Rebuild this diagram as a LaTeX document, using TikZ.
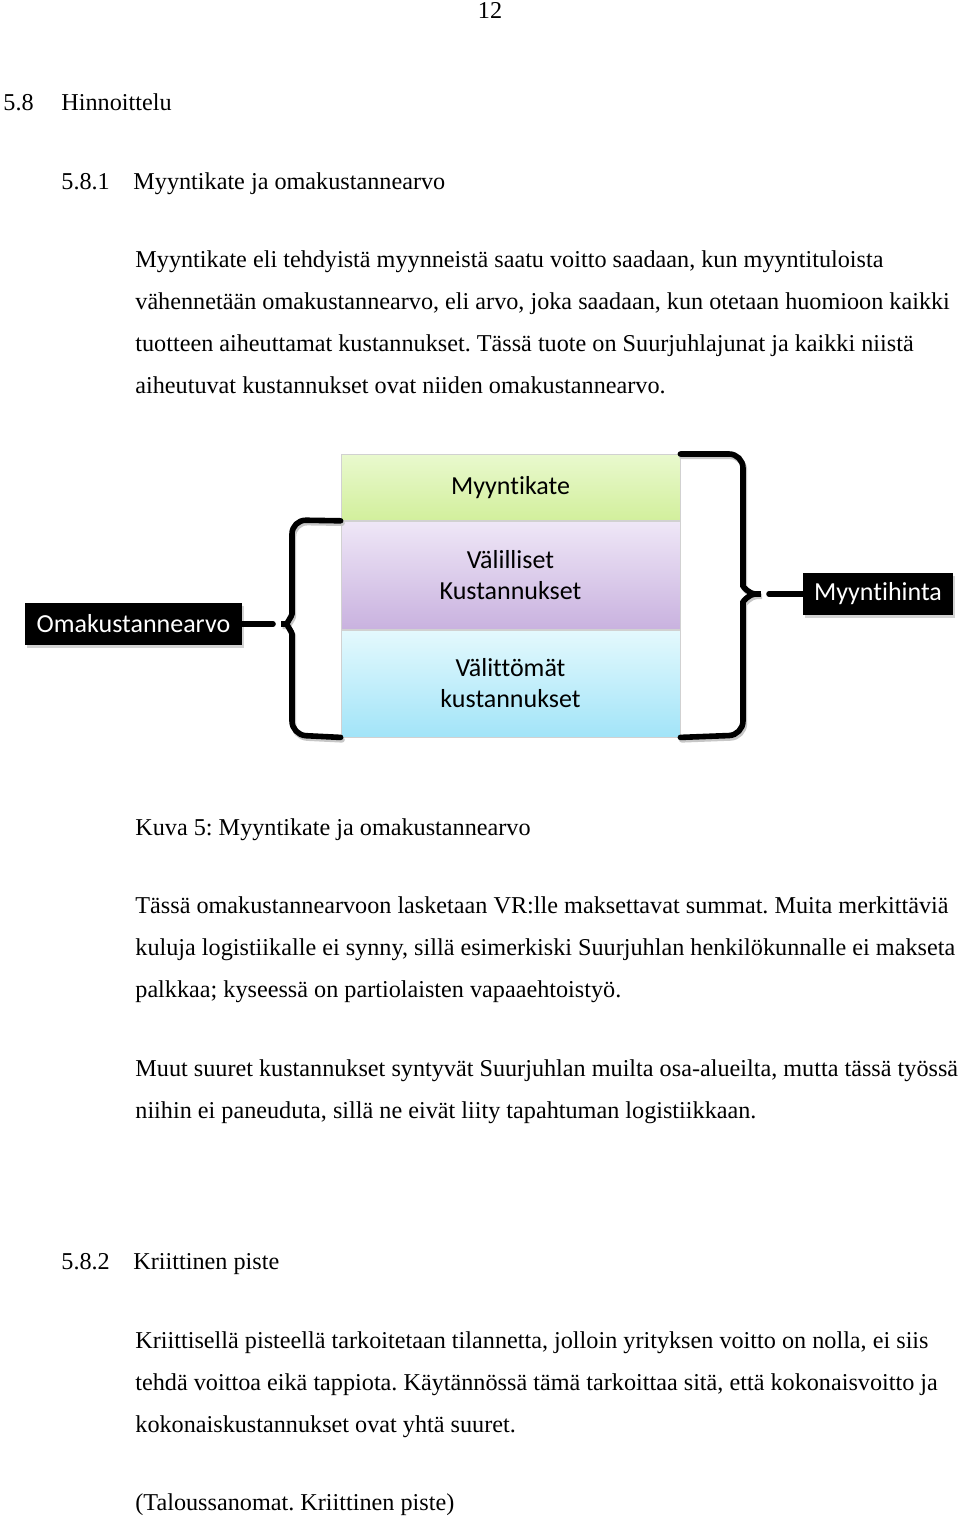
\documentclass[tikz,border=0pt]{standalone}
\usepackage{fontspec}
\setmainfont{Liberation Serif}
\newfontfamily\boxfont[Ligatures=NoCommon]{Carlito}
\usepackage{tikz}
\usetikzlibrary{positioning}
\usetikzlibrary{shadows}

\definecolor{kategreen}{HTML}{D2EF9C}
\definecolor{katelight}{HTML}{E9F9CE}
\definecolor{vallpurple}{HTML}{C9B2DF}
\definecolor{valllight}{HTML}{EFE7F7}
\definecolor{valtblue}{HTML}{A2E4F8}
\definecolor{valtlight}{HTML}{E4F9FD}

\tikzset{
  line/.style={anchor=base west, inner sep=0pt, font=\fontsize{12.1}{14}\selectfont},
  stackbox/.style={draw=black!18, line width=0.4pt, minimum width=169.5pt, inner sep=0pt,
    align=center, font=\boxfont\fontsize{13}{15.5}\selectfont},
  tag/.style={fill=black, text=white, inner sep=0pt, minimum height=21pt,
    font=\boxfont\fontsize{13}{15.5}\selectfont, drop shadow={shadow xshift=1pt, shadow yshift=-1.5pt, opacity=0.35}},
  bracket/.style={line width=2.8pt, rounded corners=7pt, line cap=round},
  bracketshadow/.style={bracket, black!22, transform canvas={xshift=0.7pt, yshift=-1.2pt}}
}

\begin{document}
\frenchspacing
\begin{tikzpicture}[x=0.5pt, y=-0.5pt]
    \useasboundingbox (0,0) rectangle (960,1516);

    % page text
    \node[line, anchor=base] (pagenum) at (490,18) {12};
    \node[line] (sec) at (3,110) {5.8};
    \node[line] (sectitle) at (61,110) {Hinnoittelu};
    \node[line] (subsec) at (61,189) {5.8.1};
    \node[line] (subsectitle) at (133,189) {Myyntikate ja omakustannearvo};
    \node[line] (p1a) at (135,267) {Myyntikate eli tehdyistä myynneistä saatu voitto saadaan, kun myyntituloista};
    \node[line] (p1b) at (135,309) {vähennetään omakustannearvo, eli arvo, joka saadaan, kun otetaan huomioon kaikki};
    \node[line] (p1c) at (135,351) {tuotteen aiheuttamat kustannukset. Tässä tuote on Suurjuhlajunat ja kaikki niistä};
    \node[line] (p1d) at (135,393) {aiheutuvat kustannukset ovat niiden omakustannearvo.};

    % diagram
    \node[stackbox, minimum height=33pt, top color=katelight, bottom color=kategreen, anchor=north] (kate) at (510.5,454) {Myyntikate};
    \node[stackbox, minimum height=54pt, top color=valllight, bottom color=vallpurple, below=0pt of kate] (valilliset) {Välilliset\\Kustannukset};
    \node[stackbox, minimum height=53.5pt, top color=valtlight, bottom color=valtblue, below=0pt of valilliset] (valittomat) {Välittömät\\kustannukset};

    \node[tag, minimum width=108.5pt] (oma) at (133.5,624) {Omakustannearvo};
    \node[tag, minimum width=75pt] (hinta) at (878,594) {Myyntihinta};

    \coordinate (omatip) at (273,624);
    \coordinate (hintatip) at (769,594);

    % bracket shadows
    \draw[bracketshadow] (valilliset.north west) -- (292,520) -- (292,600)
      .. controls (292,616) and (286,624) .. (omatip) .. controls (286,624) and (292,632) .. (292,648)
      -- (292,735) -- (valittomat.south west);
    \draw[bracketshadow] (kate.north east) -- (743,454) -- (743,572)
      .. controls (743,587) and (750,594) .. (hintatip) .. controls (750,594) and (743,601) .. (743,616)
      -- (743,735) -- (valittomat.south east);

    % brackets
    \draw[bracket] (valilliset.north west) -- (292,520) -- (292,600)
      .. controls (292,616) and (286,624) .. (omatip) .. controls (286,624) and (292,632) .. (292,648)
      -- (292,735) -- (valittomat.south west);
    \draw[bracket] (oma.east) -- (omatip);
    \draw[bracket] (kate.north east) -- (743,454) -- (743,572)
      .. controls (743,587) and (750,594) .. (hintatip) .. controls (750,594) and (743,601) .. (743,616)
      -- (743,735) -- (valittomat.south east);
    \draw[bracket] (hintatip) -- (hinta.west);

    % caption and rest of page
    \node[line] (caption) at (135,835) {Kuva 5: Myyntikate ja omakustannearvo};
    \node[line] (p2a) at (135,913) {Tässä omakustannearvoon lasketaan VR:lle maksettavat summat. Muita merkittäviä};
    \node[line] (p2b) at (135,955) {kuluja logistiikalle ei synny, sillä esimerkiski Suurjuhlan henkilökunnalle ei makseta};
    \node[line] (p2c) at (135,997) {palkkaa; kyseessä on partiolaisten vapaaehtoistyö.};
    \node[line] (p3a) at (135,1076) {Muut suuret kustannukset syntyvät Suurjuhlan muilta osa-alueilta, mutta tässä työssä};
    \node[line] (p3b) at (135,1118) {niihin ei paneuduta, sillä ne eivät liity tapahtuman logistiikkaan.};
    \node[line] (subsec2) at (61,1269) {5.8.2};
    \node[line] (subsec2title) at (133,1269) {Kriittinen piste};
    \node[line] (p4a) at (135,1348) {Kriittisellä pisteellä tarkoitetaan tilannetta, jolloin yrityksen voitto on nolla, ei siis};
    \node[line] (p4b) at (135,1390) {tehdä voittoa eikä tappiota. Käytännössä tämä tarkoittaa sitä, että kokonaisvoitto ja};
    \node[line] (p4c) at (135,1432) {kokonaiskustannukset ovat yhtä suuret.};
    \node[line] (source) at (135,1510) {(Taloussanomat. Kriittinen piste)};
\end{tikzpicture}
\end{document}
